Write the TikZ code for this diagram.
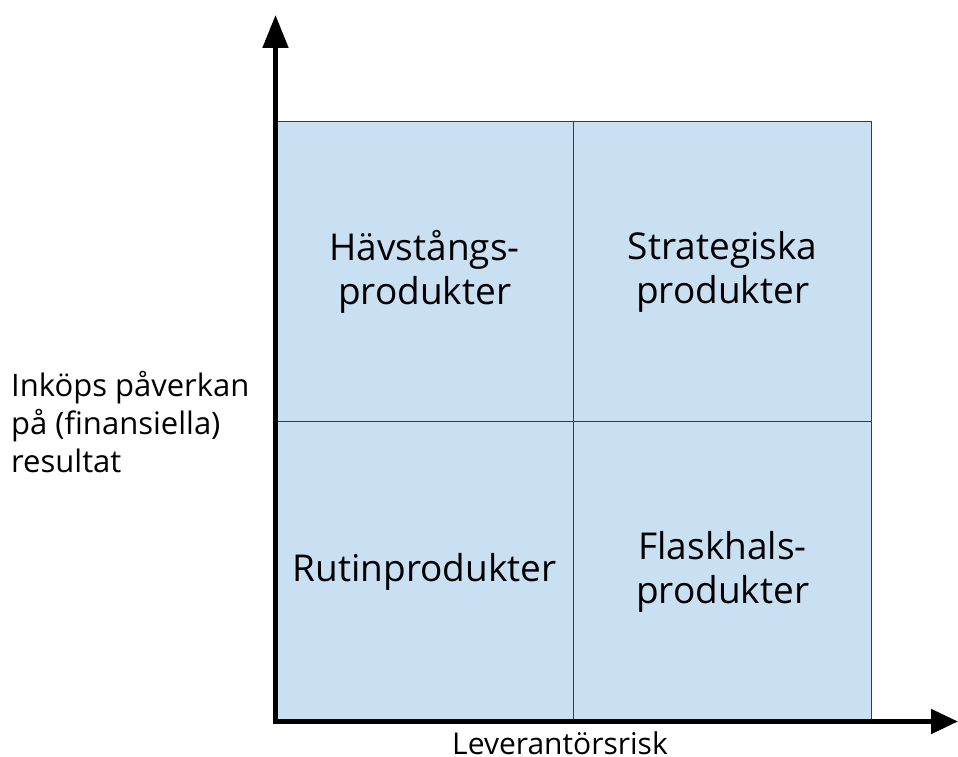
\documentclass[tikz,border=0pt]{standalone}
\usepackage{fontspec}
\setmainfont{Open Sans}
\usetikzlibrary{arrows.meta}
\definecolor{quadfill}{RGB}{201,223,242}
\definecolor{quadline}{RGB}{60,60,60}
\tikzset{
  quad/.style={draw=quadline, line width=1.2pt, fill=quadfill, inner sep=0pt,
    minimum width=298pt, minimum height=300pt, align=center,
    font=\fontsize{37}{44}\selectfont},
  axis/.style={line width=5pt, line cap=rect},
  lbl/.style={inner sep=0pt, font=\fontsize{31}{38}\selectfont}
}
\begin{document}
\begin{tikzpicture}[x=1pt,y=1pt]
\useasboundingbox (0,0) rectangle (958,756);
% quadrants (y = 756 - pixel row)
\node[quad, anchor=south west] (rutin) at (275,34) {Rutinprodukter};
\node[quad, anchor=south west] (flask) at (573,34) {Flaskhals-\\produkter};
\node[quad, anchor=south west] (havst) at (275,334) {Hävstångs-\\produkter};
\node[quad, anchor=south west] (strat) at (573,334) {Strategiska\\produkter};
% axes
\coordinate (O) at (275.5,34.5);
\coordinate (ytip) at (275.5,741);
\coordinate (xtip) at (958,34.5);
\draw[axis, -{Triangle[length=33pt,width=25pt]}] (O) -- (ytip);
\draw[axis, -{Triangle[length=27pt,width=24pt]}] (O) -- (xtip);
% labels
\node[lbl, anchor=west, align=left] (ylab) at (11,334) {Inköps påverkan\\på (finansiella)\\resultat};
\node[inner sep=0pt, anchor=base, font=\fontsize{30}{33}\selectfont] (xlab) at (560,1.5) {Leverantörsrisk};
\end{tikzpicture}
\end{document}
